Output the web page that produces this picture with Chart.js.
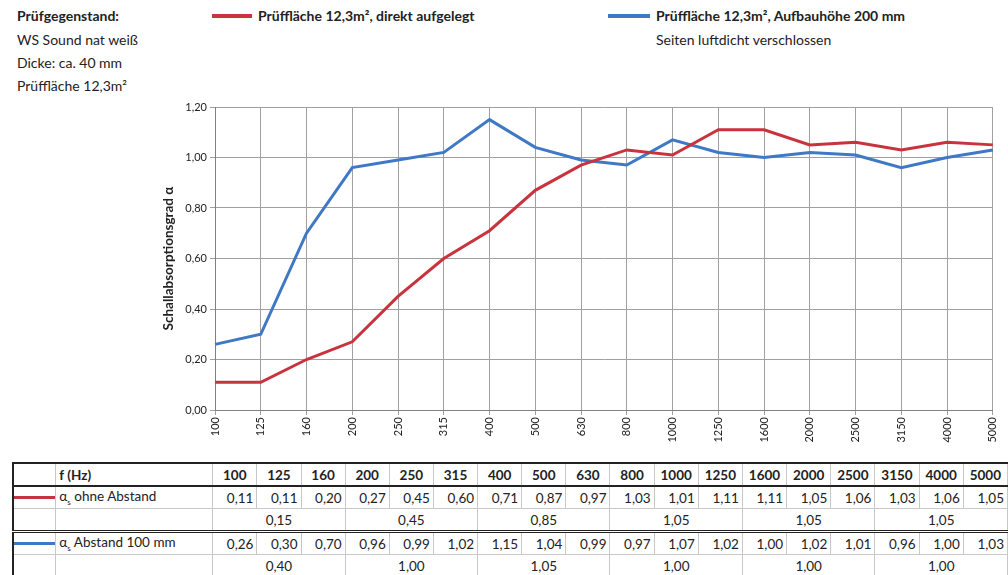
<!DOCTYPE html>
<html>
<head>
<meta charset="utf-8">
<script src="https://cdn.jsdelivr.net/npm/chart.js@4"></script>
<style>
  body { margin:0; width:1008px; height:575px; background:#fff; position:relative; overflow:hidden;
         font-family: Lato, "Open Sans", sans-serif; color:#222; }
  .txt { position:absolute; font-size:14px; white-space:nowrap; }
  .b { font-weight:bold; }
  .swatch { position:absolute; height:4px; }
  #wrap { position:absolute; left:150px; top:90px; width:858px; height:360px; }
  table { position:absolute; left:12px; top:462px; border-collapse:collapse; table-layout:fixed;
          font-size:13.5px; }
  td { height:21px; padding:0 3px; border:1px solid #c8c8c8; white-space:nowrap; overflow:hidden; }
  tr.head td { font-weight:bold; border-top:2px solid #222; border-bottom:2px solid #222; }
  tr.avg1 td { border-bottom:3px double #222; }
  td.num { text-align:right; }
  td.mid { text-align:center; }
  td.first { border-left:2px solid #222; position:relative; }
</style>
</head>
<body>
<div class="txt b" style="left:17px;top:7px;">Prüfgegenstand:</div>
<div class="txt" style="left:17px;top:31px;">WS Sound nat weiß</div>
<div class="txt" style="left:17px;top:54px;">Dicke: ca. 40 mm</div>
<div class="txt" style="left:17px;top:77px;">Prüffläche 12,3m²</div>

<div class="swatch" style="left:212px;top:14px;width:40px;background:#c8333d;"></div>
<div class="txt b" style="left:258px;top:7px;">Prüffläche 12,3m², direkt aufgelegt</div>
<div class="swatch" style="left:608px;top:14px;width:42px;background:#3f78c4;"></div>
<div class="txt b" style="left:656px;top:7px;">Prüffläche 12,3m², Aufbauhöhe 200 mm</div>
<div class="txt" style="left:656px;top:31px;">Seiten luftdicht verschlossen</div>

<div id="wrap"><canvas id="c"></canvas></div>
<table id="tab"></table>

<script>
const freqs = ["100","125","160","200","250","315","400","500","630","800","1000","1250","1600","2000","2500","3150","4000","5000"];
const direkt = [0.11,0.11,0.20,0.27,0.45,0.60,0.71,0.87,0.97,1.03,1.01,1.11,1.11,1.05,1.06,1.03,1.06,1.05];
const aufbau = [0.26,0.30,0.70,0.96,0.99,1.02,1.15,1.04,0.99,0.97,1.07,1.02,1.00,1.02,1.01,0.96,1.00,1.03];
const direktTerz = ["0,15","0,45","0,85","1,05","1,05","1,05"];
const aufbauTerz = ["0,40","1,00","1,05","1,00","1,00","1,00"];
const yTicks = [0,0.2,0.4,0.6,0.8,1.0,1.2];

const rot = "#c8333d", blau = "#3f78c4";
const fmt = v => v.toFixed(2).replace(".", ",");

new Chart(document.getElementById("c"), {
    type: "line",
    data: {
        labels: freqs,
        datasets: [
            { label: "Prüffläche 12,3m², direkt aufgelegt", data: direkt, borderColor: rot, borderWidth: 3, pointRadius: 0, tension: 0 },
            { label: "Prüffläche 12,3m², Aufbauhöhe 200 mm", data: aufbau, borderColor: blau, borderWidth: 3, pointRadius: 0, tension: 0 }
        ]
    },
    options: {
        responsive: true,
        maintainAspectRatio: false,
        animation: false,
        layout: { padding: { top: 17, right: 11, left: 0, bottom: 0 } },
        plugins: { legend: { display: false }, tooltip: { enabled: false } },
        scales: {
            x: {
                offset: false,
                grid: { color: "#a0a0a0", tickLength: 5 },
                border: { color: "#808080" },
                ticks: { minRotation: 90, maxRotation: 90, autoSkip: false, color: "#222",
                         font: { family: "Lato", size: 11 }, padding: 2 },
                afterFit: s => { s.height = 40; }
            },
            y: {
                min: 0, max: 1.2,
                afterBuildTicks: s => { s.ticks = yTicks.map(v => ({ value: v })); },
                grid: { color: "#a0a0a0", tickLength: 5 },
                border: { color: "#808080" },
                ticks: { callback: v => fmt(v), color: "#222", font: { family: "Lato", size: 11 }, padding: 3 },
                title: { display: true, text: "Schallabsorptionsgrad α", color: "#222",
                         font: { family: "Lato", size: 13.5, weight: "bold" }, padding: { top: 11, bottom: 0 } },
                afterFit: s => { s.width = 65; }
            }
        }
    }
});

// Tabelle
const wFirst = 43, wLabel = 157, wCol = 44.2;
let html = "<colgroup><col style='width:" + wFirst + "px'><col style='width:" + wLabel + "px'>" +
    freqs.map(() => "<col style='width:" + wCol + "px'>").join("") + "</colgroup>";
html += "<tr class='head'><td class='first'></td><td>f (Hz)</td>" +
    freqs.map(f => "<td class='mid'>" + f + "</td>").join("") + "</tr>";
const zeile = (farbe, text, werte) =>
    "<tr><td class='first'><div style='position:absolute;left:-14px;right:-6px;top:9px;height:3px;background:" + farbe + "'></div></td>" +
    "<td>" + text + "</td>" + werte.map(v => "<td class='num'>" + fmt(v) + "</td>").join("") + "</tr>";
const mittel = (cls, werte) =>
    "<tr class='" + cls + "'><td class='first'></td><td></td>" +
    werte.map(v => "<td class='mid' colspan='3'>" + v + "</td>").join("") + "</tr>";
html += zeile(rot, "α<sub style='font-size:8px'>s</sub> ohne Abstand", direkt);
html += mittel("avg1", direktTerz);
html += zeile(blau, "α<sub style='font-size:8px'>s</sub> Abstand 100 mm", aufbau);
html += mittel("avg2", aufbauTerz);
document.getElementById("tab").innerHTML = html;
</script>
</body>
</html>
